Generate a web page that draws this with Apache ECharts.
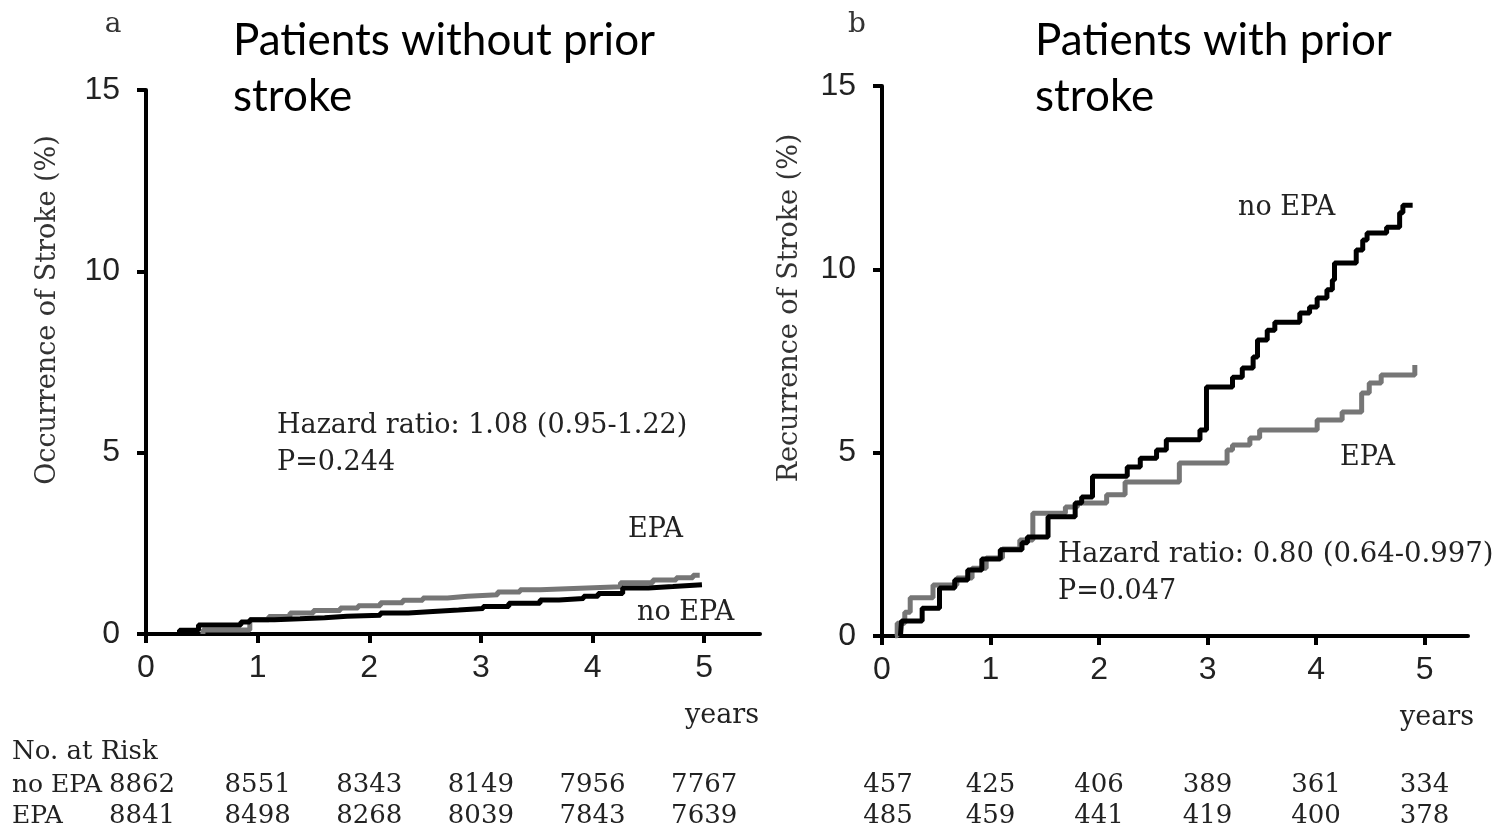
<!DOCTYPE html>
<html><head><meta charset="utf-8">
<script src="https://cdn.jsdelivr.net/npm/echarts@6/dist/echarts.min.js"></script>
<style>html,body{margin:0;padding:0;background:#fff}#c{width:1499px;height:830px}</style>
</head><body><div id="c"></div>
<script>
// ---- data ----
const xTicks = [0, 1, 2, 3, 4, 5];
const riskTimes = [0, 1, 2, 3, 4, 5];
const riskNoEpaA = [8862, 8551, 8343, 8149, 7956, 7767];
const riskEpaA   = [8841, 8498, 8268, 8039, 7843, 7639];
const riskNoEpaB = [457, 425, 406, 389, 361, 334];
const riskEpaB   = [485, 459, 441, 419, 400, 378];

// panel a: patients without prior stroke (cumulative %)
const aNoEpaT = [0.30,0.30,0.47,0.85,0.93,1.15,1.38,1.60,1.80,2.10,2.35,2.57,2.80,3.02,3.25,3.53,3.70,3.92,4.05,4.27,4.50,4.72,4.98];
const aNoEpaV = [0,0.10,0.25,0.33,0.39,0.42,0.45,0.49,0.52,0.58,0.62,0.66,0.70,0.76,0.85,0.94,0.98,1.04,1.12,1.27,1.31,1.36,1.36];
const aEpaT = [0.51,0.51,0.93,1.10,1.29,1.50,1.74,1.90,2.10,2.30,2.48,2.70,2.88,3.15,3.35,3.53,3.95,4.25,4.54,4.75,4.90,4.96];
const aEpaV = [0,0.11,0.39,0.48,0.58,0.65,0.72,0.78,0.86,0.93,0.99,1.04,1.08,1.16,1.22,1.27,1.30,1.41,1.49,1.55,1.62,1.62];

// panel b: patients with prior stroke (cumulative %)
const bNoEpaT = [0.17,0.18,0.37,0.53,0.67,0.79,0.92,1.09,1.29,1.34,1.53,1.78,1.84,1.94,2.26,2.38,2.53,2.62,2.93,2.99,3.23,3.32,3.42,3.46,3.55,3.62,3.85,3.94,4.01,4.10,4.15,4.17,4.37,4.43,4.47,4.65,4.77,4.80,4.89];
const bNoEpaV = [0,0.41,0.76,1.31,1.53,1.80,2.10,2.35,2.54,2.70,3.25,3.63,3.79,4.36,4.61,4.85,5.07,5.35,5.62,6.79,7.06,7.31,7.61,8.07,8.34,8.56,8.81,8.97,9.22,9.44,9.71,10.17,10.53,10.80,10.99,11.15,11.54,11.75,11.75];
const bEpaT = [0.12,0.14,0.21,0.26,0.47,0.69,0.83,0.96,1.11,1.27,1.39,1.69,1.80,2.07,2.24,2.74,3.18,3.23,3.39,3.48,4.01,4.24,4.42,4.49,4.60,4.91];
const bEpaV = [0,0.35,0.65,1.04,1.39,1.58,1.85,2.13,2.37,2.62,3.35,3.52,3.63,3.85,4.20,4.72,5.07,5.21,5.40,5.62,5.89,6.11,6.63,6.90,7.12,7.39];

const zip = (t, v) => t.map((x, i) => [x, v[i]]);

const SERIF = 'DejaVu Serif';
const SANS = 'Liberation Sans';
const TITLE = 'Lato';
const BLACK = '#000';
const GRAY = '#767676';

function xAxis(gi, max) {
  return {
    type: 'value', gridIndex: gi, min: 0, max: max,
    axisLine: { show: true, lineStyle: { color: BLACK, width: 4 } },
    axisTick: { show: true, customValues: xTicks, length: 9, lineStyle: { color: BLACK, width: 4 } },
    axisLabel: { customValues: xTicks, fontFamily: SANS, fontSize: 32, color: '#222', margin: 18 },
    splitLine: { show: false }
  };
}
function yAxis(gi) {
  return {
    type: 'value', gridIndex: gi, min: 0, max: 15, interval: 5,
    axisLine: { show: true, lineStyle: { color: BLACK, width: 4 } },
    axisTick: { show: true, length: 9, lineStyle: { color: BLACK, width: 4 } },
    axisLabel: { fontFamily: SANS, fontSize: 32, color: '#222', margin: 26 },
    splitLine: { show: false }
  };
}
function line(gi, data, color, z) {
  return {
    type: 'line', xAxisIndex: gi, yAxisIndex: gi, step: 'end', showSymbol: false,
    data: data, lineStyle: { color: color, width: 5 }, itemStyle: { color: color },
    animation: false, z: z
  };
}

const chart = echarts.init(document.getElementById('c'), null, { renderer: 'canvas' });
const option = {
  backgroundColor: '#fff',
  animation: false,
  grid: [
    { left: 146, right: 739, top: 90, bottom: 196 },
    { left: 882, right: 31, top: 86, bottom: 194 }
  ],
  xAxis: [xAxis(0, 5.5), xAxis(1, 5.4)],
  yAxis: [yAxis(0), yAxis(1)],
  series: [
    line(0, zip(aEpaT, aEpaV), GRAY, 2),
    line(0, zip(aNoEpaT, aNoEpaV), BLACK, 3),
    line(1, zip(bEpaT, bEpaV), GRAY, 2),
    line(1, zip(bNoEpaT, bNoEpaV), BLACK, 3)
  ]
};
chart.setOption(option);

function txt(text, x, y, font, size, color, align, rot) {
  return { type: 'text', x: x, y: y, rotation: rot || 0, silent: true,
    style: { text: text, fontFamily: font, fontSize: size, fill: color || '#222',
      align: align || 'left', verticalAlign: 'middle' } };
}
const g = [
  txt('a', 113, 25, SERIF, 28, '#333', 'center'),
  txt('b', 857, 25, SERIF, 28, '#333', 'center'),
  txt('Patients without prior', 233, 41, TITLE, 44, '#000'),
  txt('stroke', 233, 97, TITLE, 44, '#000'),
  txt('Patients with prior', 1035, 41, TITLE, 44, '#000'),
  txt('stroke', 1035, 97, TITLE, 44, '#000'),
  txt('Occurrence of Stroke (%)', 48, 310, SERIF, 27, '#333', 'center', Math.PI / 2),
  txt('Recurrence of Stroke (%)', 790, 308, SERIF, 27, '#333', 'center', Math.PI / 2),
  txt('Hazard ratio: 1.08 (0.95-1.22)', 277, 426, SERIF, 27),
  txt('P=0.244', 277, 463, SERIF, 27),
  txt('EPA', 628, 530, SERIF, 27),
  txt('no EPA', 637, 613, SERIF, 27),
  txt('no EPA', 1238, 208, SERIF, 27),
  txt('EPA', 1340, 458, SERIF, 27),
  txt('Hazard ratio: 0.80 (0.64-0.997)', 1058, 555, SERIF, 27.5),
  txt('P=0.047', 1058, 592, SERIF, 27),
  txt('years', 685, 716, SERIF, 27),
  txt('years', 1400, 718, SERIF, 27),
  txt('No. at Risk', 12, 752, SERIF, 26),
  txt('no EPA', 12, 785, SERIF, 25),
  txt('EPA', 12, 816, SERIF, 25)
];
riskTimes.forEach((t, i) => {
  const xa = chart.convertToPixel({ xAxisIndex: 0 }, t) - (i === 0 ? 4 : 0);
  const xb = chart.convertToPixel({ xAxisIndex: 1 }, t) + (i === 0 ? 6 : 0);
  g.push(txt(String(riskNoEpaA[i]), xa, 785, SERIF, 26, '#222', 'center'));
  g.push(txt(String(riskEpaA[i]), xa, 816, SERIF, 26, '#222', 'center'));
  g.push(txt(String(riskNoEpaB[i]), xb, 785, SERIF, 26, '#222', 'center'));
  g.push(txt(String(riskEpaB[i]), xb, 816, SERIF, 26, '#222', 'center'));
});
chart.setOption({ graphic: g });
</script>
</body></html>
